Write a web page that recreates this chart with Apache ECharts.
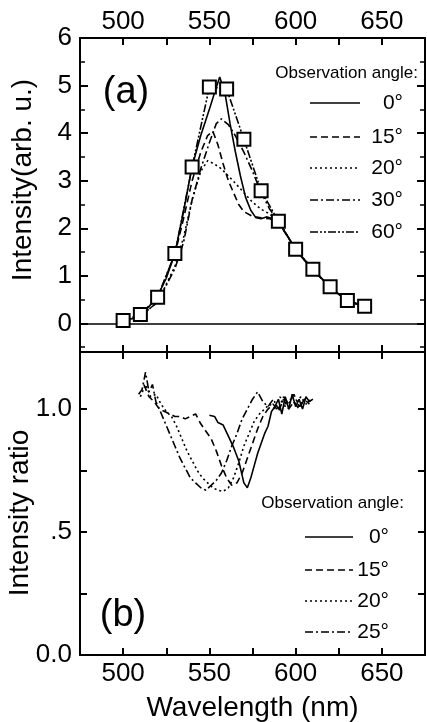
<!DOCTYPE html>
<html><head><meta charset="utf-8">
<script src="https://cdn.jsdelivr.net/npm/echarts@6/dist/echarts.min.js"></script>
<style>html,body{margin:0;padding:0;background:#fff}#c{width:427px;height:722px}</style>
</head><body><div id="c"></div>
<script>
// ---------- Panel (a): intensity spectra ----------
const squareWl = [500,510,520,530,540,550,560,570,580,590,600,610,620,630,640];
const angle60Val = [0.06,0.19,0.55,1.47,3.29,4.97,4.93,3.87,2.79,2.15,1.56,1.14,0.77,0.48,0.36];

const a0Wl  = [500,505,510,515,520,525,530,535,540,545,550,553,556,559,562,565,568,571,574,577,580,583,587,590,595,600,605,610,615,620,625,630,635,640];
const a0Val = [0.04,0.1,0.2,0.35,0.58,0.95,1.47,2.35,3.3,3.95,4.5,4.85,5.18,4.85,4.2,3.62,3.1,2.65,2.38,2.22,2.2,2.24,2.2,2.14,1.85,1.56,1.33,1.14,0.95,0.77,0.61,0.48,0.41,0.36];

const a15Wl  = [500,510,520,530,535,540,545,549,552,555,558,561,564,567,570,575,580,585,590,600,610,620,630,640];
const a15Val = [0.03,0.18,0.55,1.45,2.2,3.0,3.6,3.95,4.04,3.75,3.35,3.0,2.75,2.5,2.35,2.25,2.22,2.2,2.13,1.56,1.13,0.76,0.48,0.36];

const a20Wl  = [500,510,520,530,535,540,545,549,553,557,561,565,570,575,580,585,590,600,610,620,630,640];
const a20Val = [0.03,0.15,0.45,1.2,1.8,2.6,3.2,3.42,3.35,3.25,3.1,2.95,2.75,2.55,2.4,2.3,2.15,1.56,1.13,0.76,0.48,0.36];

const a30Wl  = [500,510,520,530,535,540,545,550,554,557,561,565,570,575,580,585,590,600,610,620,630,640];
const a30Val = [0.03,0.15,0.45,1.15,1.7,2.6,3.25,3.8,4.2,4.3,4.18,3.95,3.6,3.2,2.75,2.4,2.15,1.56,1.13,0.76,0.48,0.36];

// ---------- Panel (b): intensity ratio ----------
const b0Wl  = [550,553,555,558,561,564,567,570,572,574,576,578,580,582,584,586,588,590,592,594,596,598,600,602,604,606,608,610];
const b0Val = [0.975,0.97,0.945,0.935,0.89,0.845,0.79,0.7,0.68,0.72,0.77,0.82,0.86,0.9,0.93,0.99,1.01,1.04,0.98,1.05,1.0,1.06,1.01,1.04,1.0,1.05,1.03,1.04];

const b15Wl  = [512,515,518,521,524,527,530,533,536,539,542,545,548,551,554,557,560,563,566,569,572,575,578,581,584,587,590,593,596,599,602,605,608];
const b15Val = [1.1,1.05,1.03,1.0,0.99,0.98,0.97,0.97,0.96,0.97,0.98,0.94,0.91,0.88,0.83,0.77,0.72,0.69,0.7,0.74,0.8,0.86,0.92,0.97,1.0,1.02,0.99,1.04,1.0,1.03,1.0,1.04,1.02];

const b20Wl  = [510,513,516,519,522,525,528,531,534,537,540,543,546,549,552,555,558,561,564,567,570,573,576,579,582,585,588,591,594,597,600,603,606,609];
const b20Val = [1.05,1.1,1.05,1.06,1.02,0.99,0.97,0.93,0.88,0.83,0.79,0.75,0.72,0.7,0.68,0.67,0.665,0.68,0.72,0.78,0.85,0.9,0.95,0.98,1.0,1.02,1.0,1.05,1.01,1.04,1.02,1.05,1.02,1.04];

const b25Wl  = [509,511,513,515,517,519,521,524,527,530,533,536,539,542,545,548,551,554,557,560,563,566,569,572,575,578,581,584,587,590,593,596,599,602,605,608];
const b25Val = [1.06,1.08,1.15,1.07,1.1,1.03,1.0,0.95,0.9,0.85,0.8,0.76,0.72,0.7,0.68,0.67,0.69,0.71,0.74,0.79,0.85,0.9,0.96,1.0,1.04,1.07,1.03,1.01,1.04,1.0,1.05,1.02,1.06,1.01,1.04,1.03];

const xTickLabels = [500,550,600,650];
const legendA = ['0°','15°','20°','30°','60°'];
const legendB = ['0°','15°','20°','25°'];

// ---------- styling ----------
const FONT = 'Liberation Sans, Arial, Helvetica, sans-serif';
const K = '#000';
const DASH = {
  solid: 'solid',
  dashed: [7,4],
  dotted: [2,3],
  dashdot: [8,3,2,3],
  dashdotdot: [8,2,2,2,2,2]
};

function pairs(wl, v){ return wl.map((w,i)=>[w, v[i]]); }
function lineSeries(xi, yi, wl, v, dash, extra){
  return Object.assign({
    type:'line', xAxisIndex:xi, yAxisIndex:yi, data:pairs(wl,v),
    showSymbol:false, symbol:'none', smooth:false, animation:false,
    lineStyle:{color:K, width:1.6, type:dash}, silent:true, z:3
  }, extra||{});
}

function xAx(grid, pos, labels, extra){
  return Object.assign({
    type:'value', gridIndex:grid, position:pos, min:475, max:675, interval:25,
    axisLine:{show:true, onZero:false, lineStyle:{color:K, width:2}},
    axisTick:{show:true, inside:true, length:7, lineStyle:{color:K, width:2}},
    axisLabel:{show:labels, margin: pos==='top'?3:6, fontSize:26, color:K, fontFamily:FONT,
      formatter: v => (xTickLabels.indexOf(Math.round(v))>=0 && Math.abs(v-Math.round(v))<1e-6) ? String(Math.round(v)) : ''},
    splitLine:{show:false}
  }, extra||{});
}

const yA = {
  type:'value', gridIndex:0, position:'left', min:-0.6, max:6, splitNumber:6,
  axisLine:{show:true, onZero:false, lineStyle:{color:K, width:2}},
  axisTick:{show:true, inside:true, length:8, lineStyle:{color:K, width:2}},
  minorTick:{show:true, splitNumber:2, length:5, lineStyle:{color:K, width:1.5}},
  axisLabel:{show:true, margin:8, fontSize:26, color:K, fontFamily:FONT,
    formatter: v => (v>=-1e-6 && Math.abs(v-Math.round(v))<1e-6) ? String(Math.round(v)) : ''},
  splitLine:{show:false}, minorSplitLine:{show:false}
};
const yAr = Object.assign({}, yA, {position:'right', axisLabel:{show:false}});

const yB = {
  type:'value', gridIndex:1, position:'left', min:0, max:1.232, interval:0.25,
  axisLine:{show:true, onZero:false, lineStyle:{color:K, width:2}},
  axisTick:{show:true, inside:true, length:7, lineStyle:{color:K, width:2}},
  axisLabel:{show:true, margin:8, fontSize:26, color:K, fontFamily:FONT,
    formatter: v => Math.abs(v)<1e-6 ? '0.0' : (Math.abs(v-0.5)<1e-6 ? '.5' : (Math.abs(v-1)<1e-6 ? '1.0' : ''))},
  splitLine:{show:false}
};
const yBr = Object.assign({}, yB, {position:'right', axisLabel:{show:false}});

// legend graphics
function legendGraphics(title, titleRight, titleY, labels, dashes, x1, x2, labRight, ys){
  const g = [{type:'text', x:titleRight, y:titleY, silent:true,
    style:{text:title, fill:K, font:'17px '+FONT, textAlign:'right', align:'right', textVerticalAlign:'middle', verticalAlign:'middle'}}];
  labels.forEach((lab,i)=>{
    const d = dashes[i];
    g.push({type:'line', silent:true, shape:{x1:x1, y1:ys[i], x2:x2, y2:ys[i]},
      style:{stroke:K, lineWidth:1.6, lineDash: d==='solid'?null:d}});
    g.push({type:'text', x:labRight, y:ys[i], silent:true,
      style:{text:lab, fill:K, font:'21px '+FONT, textAlign:'right', align:'right', textVerticalAlign:'middle', verticalAlign:'middle'}});
  });
  return g;
}

function centerText(txt, x, y, size, rot){
  return {type:'text', x:x, y:y, rotation:rot||0, silent:true,
    style:{text:txt, fill:K, font:size+'px '+FONT, textAlign:'center', align:'center', textVerticalAlign:'middle', verticalAlign:'middle'}};
}

const graphics = [].concat(
  [centerText('(a)',126,93,38), centerText('(b)',123,616,38),
   centerText('Intensity(arb. u.)',23,180,28,Math.PI/2),
   centerText('Intensity ratio',20,513,28,Math.PI/2)],
  legendGraphics('Observation angle:', 418, 73, legendA,
    [DASH.solid, DASH.dashed, DASH.dotted, DASH.dashdot, DASH.dashdotdot], 310, 360, 403, [103,137,168,200,232]),
  legendGraphics('Observation angle:', 404, 503, legendB,
    [DASH.solid, DASH.dashed, DASH.dotted, DASH.dashdot], 305, 353, 389, [537,570,601,632])
);

const option = {
  backgroundColor:'#fff',
  animation:false,
  grid:[
    {left:80, right:2, top:38, height:314, containLabel:false, outerBoundsMode:'none'},
    {left:80, right:2, top:352, height:303, containLabel:false, outerBoundsMode:'none'}
  ],
  xAxis:[
    xAx(0,'top',true),
    xAx(0,'bottom',false),
    xAx(1,'top',false),
    xAx(1,'bottom',true,{name:'Wavelength (nm)', nameLocation:'middle', nameGap:39,
      nameTextStyle:{fontSize:28, color:K, fontFamily:FONT}})
  ],
  yAxis:[yA, yAr, yB, yBr],
  series:[
    lineSeries(1,0,a0Wl,a0Val,DASH.solid,{
      markLine:{silent:true, symbol:'none', label:{show:false}, animation:false,
        lineStyle:{color:K, width:1.6, type:'solid'}, data:[{yAxis:0}]}
    }),
    lineSeries(1,0,a15Wl,a15Val,DASH.dashed),
    lineSeries(1,0,a20Wl,a20Val,DASH.dotted),
    lineSeries(1,0,a30Wl,a30Val,DASH.dashdot),
    lineSeries(1,0,squareWl,angle60Val,DASH.dashdotdot,{
      showSymbol:true, symbol:'rect', symbolSize:13, z:5,
      itemStyle:{color:'#fff', borderColor:K, borderWidth:2}
    }),
    lineSeries(3,2,b0Wl,b0Val,DASH.solid),
    lineSeries(3,2,b15Wl,b15Val,DASH.dashed),
    lineSeries(3,2,b20Wl,b20Val,DASH.dotted),
    lineSeries(3,2,b25Wl,b25Val,DASH.dashdot)
  ],
  graphic: graphics
};
const chart = echarts.init(document.getElementById('c'), null, {renderer:'canvas'});
chart.setOption(option);
</script></body></html>
